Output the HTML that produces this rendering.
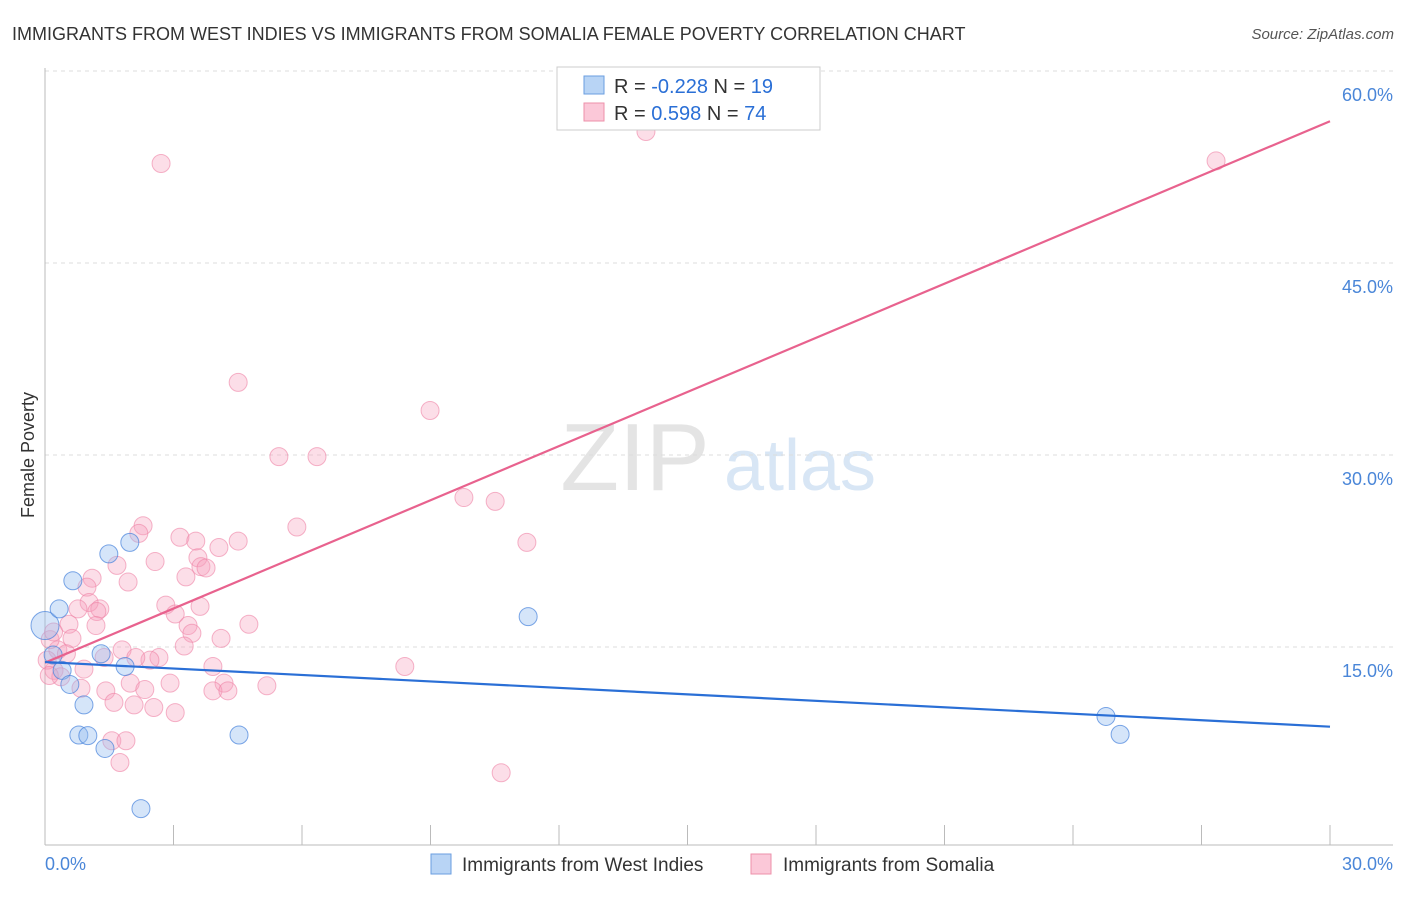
<!DOCTYPE html>
<html><head><meta charset="utf-8"><style>
body{margin:0;background:#fff;font-family:"Liberation Sans",sans-serif;}
svg text{font-family:"Liberation Sans",sans-serif;}
</style></head><body>
<svg id="chart" width="1406" height="892">
<text x="12" y="40" font-size="18" fill="#333">IMMIGRANTS FROM WEST INDIES VS IMMIGRANTS FROM SOMALIA FEMALE POVERTY CORRELATION CHART</text>
<text x="1394" y="39" font-size="15" fill="#555" font-style="italic" text-anchor="end">Source: ZipAtlas.com</text>
<text transform="translate(34,455) rotate(-90)" font-size="18" fill="#333" text-anchor="middle">Female Poverty</text>
<g><text x="635" y="490" font-size="96" fill="#e4e4e4" font-family="Liberation Serif" text-anchor="middle">ZIP</text><text x="800" y="490" font-size="72" fill="#d8e6f5" text-anchor="middle">atlas</text></g>
<g id="grid"></g><g id="axes"></g><g id="pts"></g><g id="trends"></g>
<g>
<rect x="557" y="67" width="263" height="63" fill="#fff" stroke="#ccc"/>
<rect x="584" y="76" width="20" height="18" fill="#b8d4f5" stroke="#6a9ee0"/>
<rect x="584" y="103" width="20" height="18" fill="#fbc8d8" stroke="#ee90aa"/>
<text x="614" y="93" font-size="20" fill="#333">R = <tspan fill="#2a6fd6">-0.228</tspan>   N = <tspan fill="#2a6fd6">19</tspan></text>
<text x="614" y="120" font-size="20" fill="#333">R =  <tspan fill="#2a6fd6">0.598</tspan>   N = <tspan fill="#2a6fd6">74</tspan></text>
</g>
<g>
<rect x="431" y="854" width="20" height="20" fill="#b8d4f5" stroke="#6a9ee0"/>
<text x="462" y="871" font-size="19" fill="#333">Immigrants from West Indies</text>
<rect x="751" y="854" width="20" height="20" fill="#fbc8d8" stroke="#ee90aa"/>
<text x="783" y="871" font-size="19" fill="#333">Immigrants from Somalia</text>
</g>
</svg>
<script>
const blueX=[0,0.33,0.65,1.49,1.98,1.31,1.87,0.19,0.40,0.58,0.91,0.79,1.00,1.40,4.53,2.24,11.28,24.77,25.10];
const blueY=[17.3,18.6,20.8,22.9,23.8,15.1,14.1,15.0,13.8,12.7,11.1,8.75,8.7,7.7,8.75,3.0,18.0,10.2,8.8];
const pinkX=[2.71,14.03,27.34,4.51,8.99,5.46,6.35,9.78,10.51,11.25,8.40,10.65,5.88,2.29,2.19,3.15,3.52,4.51,4.06,2.57,3.57,1.68,3.64,3.76,3.29,1.10,1.94,0.98,2.82,1.03,3.62,0.77,1.28,1.21,3.04,4.76,0.56,1.19,3.34,3.43,4.11,0.63,3.25,1.80,0.30,2.66,2.45,2.12,1.38,0.91,3.92,0.21,0.37,1.99,2.92,4.18,0.84,1.42,2.33,5.18,3.92,4.27,1.61,2.08,2.54,3.04,1.56,1.89,1.75,0.12,0.05,0.5,0.2,0.1];
const pinkY=[53.4,55.9,53.6,36.3,34.1,30.5,30.5,27.3,27.0,23.8,14.1,5.8,25.0,25.1,24.5,24.2,23.9,23.9,23.4,22.3,22.6,22.0,21.9,21.8,21.1,21.0,20.7,20.3,18.9,19.1,18.8,18.6,18.6,18.4,18.2,17.4,17.4,17.3,17.3,16.7,16.3,16.3,15.7,15.4,15.4,14.8,14.6,14.8,14.8,13.9,14.1,13.8,13.3,12.8,12.8,12.8,12.4,12.2,12.3,12.6,12.2,12.2,11.3,11.1,10.9,10.5,8.3,8.3,6.6,16.2,14.6,15.1,16.8,13.4];
const yTicks=[15,30,45,60];
const yTickLabels=["15.0%","30.0%","45.0%","60.0%"];
const xTicks=[0,3,6,9,12,15,18,21,24,27,30];
const blueTrend=[14.45,9.4];
const pinkTrend=[14.4,56.7];
const X=v=>45+v*(1285/30), Y=v=>847-v*12.8;
const NS="http://www.w3.org/2000/svg";
function mk(t,a,p){const e=document.createElementNS(NS,t);for(const k in a)e.setAttribute(k,a[k]);p.appendChild(e);return e;}
const grid=document.getElementById('grid'),axes=document.getElementById('axes'),pts=document.getElementById('pts'),tr=document.getElementById('trends');
yTicks.forEach((t,i)=>{
 const l=mk('line',{x1:45,x2:1393,y1:Y(t)-8,y2:Y(t)-8,stroke:'#ddd','stroke-dasharray':'4,4'},grid);
 
 
 const tx=mk('text',{x:1393,y:Y(t)+22,'font-size':18,fill:'#4a86d8','text-anchor':'end'},axes);
 tx.textContent=yTickLabels[i];
 
 
});
const ax=mk('line',{x1:45,x2:45,y1:68,y2:845,stroke:'#bbb'},axes);


const bx=mk('line',{x1:45,x2:1393,y1:845,y2:845,stroke:'#bbb'},axes);


xTicks.forEach(t=>{const l=mk('line',{x1:X(t),x2:X(t),y1:825,y2:845,stroke:'#bbb'},axes);
 
 });
[["0.0%",45,'start'],["30.0%",1393,'end']].forEach(a=>{const t=mk('text',{x:a[1],y:870,'font-size':18,fill:'#4a86d8','text-anchor':a[2]},axes);t.textContent=a[0];
 
 });
pinkX.forEach((v,i)=>{const c=mk('circle',{cx:X(v),cy:Y(pinkY[i]),r:9,fill:'rgba(246,160,188,0.35)',stroke:'rgba(238,130,165,0.6)'},pts);
 
 });
blueX.forEach((v,i)=>{const c=mk('circle',{cx:X(v),cy:Y(blueY[i]),r:i==0?14:9,fill:'rgba(150,190,240,0.4)',stroke:'rgba(70,130,220,0.7)'},pts);
 
 });
const pl=mk('line',{x1:X(0),y1:Y(pinkTrend[0]),x2:X(30),y2:Y(pinkTrend[1]),stroke:'#e8628e','stroke-width':2.2},tr);


const bl=mk('line',{x1:X(0),y1:Y(blueTrend[0]),x2:X(30),y2:Y(blueTrend[1]),stroke:'#2a6fd6','stroke-width':2.2},tr);


</script>
</body></html>
